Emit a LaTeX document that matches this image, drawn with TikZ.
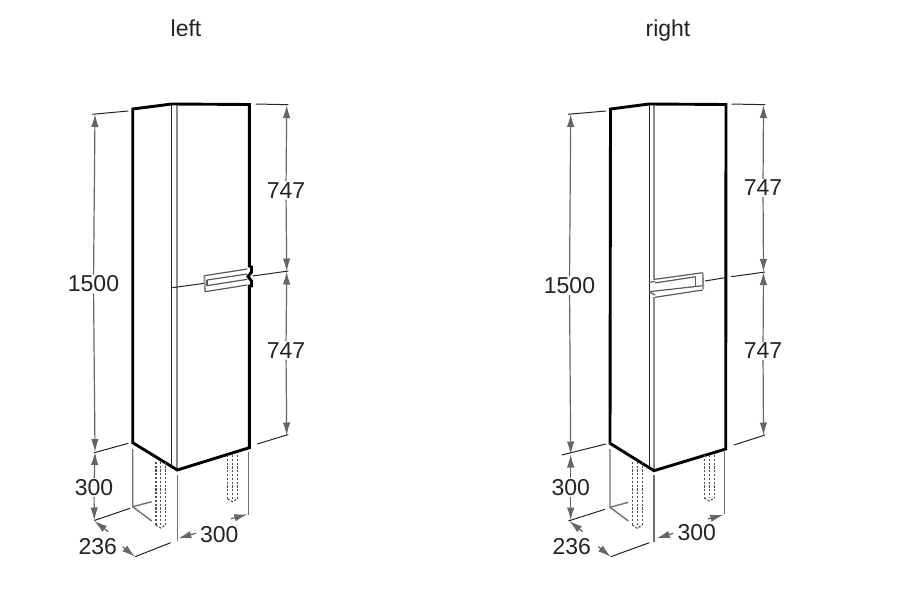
\documentclass[tikz,border=0pt]{standalone}
\usepackage{fontspec}
\setmainfont{Liberation Sans}
\usepackage{xcolor}
\usetikzlibrary{arrows.meta}
\definecolor{inkDark}{RGB}{35, 35, 35}
\definecolor{doorGray}{RGB}{140, 140, 140}

\begin{document}
\begin{tikzpicture}[
    x=1pt, y=-1pt,
    title/.style={font=\fontsize{23}{25}\selectfont, text=inkDark, anchor=base},
    size/.style={font=\fontsize{23}{25}\selectfont, text=inkDark, inner sep=1pt, fill=white},
    body/.style={draw=black, line width=2.9pt, line join=miter},
    edgeline/.style={draw=inkDark, line width=1pt},
    doorline/.style={draw=doorGray, line width=1.8pt},
    extline/.style={draw=inkDark, line width=1pt},
    handleline/.style={draw=inkDark!75, line width=1.2pt},
    legline/.style={draw=doorGray!80!black, line width=1.4pt},
    dimline/.style={draw=inkDark!70, line width=1.2pt, -{Latex[length=13pt,width=7.5pt]}},
    hidden/.style={draw=inkDark!80, line width=1.1pt, dash pattern=on 2.2pt off 1.6pt}
]
    \useasboundingbox (0,0) rectangle (900,606);

    % Titles
    \node[title] (titleL) at (186,36) {left};
    \node[title] (titleR) at (668,36) {right};

    % Left cabinet: corners
    \coordinate (lTL) at (132.7,109);
    \coordinate (lTM) at (171.7,104);
    \coordinate (lTR) at (249.3,104.5);
    \coordinate (lBL) at (132.7,442.7);
    \coordinate (lBM) at (177.3,470);
    \coordinate (lBR) at (249.3,447.7);
    \coordinate (lDT) at (177.3,104);

    % Left cabinet: door edges and handle
    \draw[edgeline] (lTM) -- (171.7,466.5);
    \draw[doorline] (lDT) -- (lBM);
    \draw[extline] (172.3,287.7) -- (204.5,283.3);
    \draw[doorline] (204.3,275.7) -- (205,291.7);
    \draw[handleline] (204.3,275.7) -- (247.3,269);
    \draw[handleline] (207,280) -- (247.3,274);
    \draw[handleline] (207,285.7) -- (247.3,279.3);
    \draw[handleline] (205,291.7) -- (247.3,285);
    \draw[handleline] (207,280) -- (207,285.7);

    % Left cabinet: outline
    \draw[body] (lBM) -- (lBL) -- (lTL) -- (lTM) -- (lTR) -- (249.3,266) -- (251.5,267) -- (251.5,272) -- (248,276.5) -- (251.5,281) -- (251.5,286) -- (249.3,286) -- (lBR) -- cycle;

    % Left cabinet: feet
    \coordinate (lFA) at (132.7,506.7);
    \draw[legline] (132.7,449) -- (lFA) -- (151.7,501.7);
    \draw[legline] (lFA) -- (151.7,521);
    \foreach \dotx in {156, 160.7, 165.7} {
        \draw[hidden] (\dotx,461.7) -- (\dotx,525);
    }
    \draw[hidden] (156,525) -- (160.7,528) -- (165.7,525);
    \foreach \dotx in {227.7, 232.3, 237.3} {
        \draw[hidden] (\dotx,455) -- (\dotx,499);
    }
    \draw[hidden] (227.7,499) -- (232.3,501.7) -- (237.3,499);

    % Left dimensions
    \coordinate (lHa) at (95,114);
    \coordinate (lHb) at (95,452);
    \coordinate (lHc) at (94.3,520.5);
    \coordinate (lUa) at (286.7,105);
    \coordinate (lUb) at (286.7,271.5);
    \coordinate (lUc) at (286.7,435.5);
    \node[size] (lTotal) at (93.5,284) {1500};
    \node[size] (lLeg) at (94,487.5) {300};
    \node[size] (lDeep) at (97.7,546.7) {236};
    \node[size] (lWide) at (219.3,534.5) {300};
    \node[size] (lUpper) at (286,190.5) {747};
    \node[size] (lLower) at (286,350.5) {747};
    \draw[extline] (92.3,114.3) -- (128.3,111);
    \draw[extline] (94.3,452.7) -- (128.3,443.3);
    \draw[extline] (94.3,520.5) -- (130,508.3);
    \draw[extline] (255.7,104) -- (288.3,104.7);
    \draw[extline] (252.7,276) -- (288.3,271);
    \draw[extline] (257.3,444) -- (288.3,434.5);
    \draw[extline] (135,556.7) -- (170.7,542.7);
    \draw[legline] (177.3,475) -- (177.3,540.7);
    \draw[legline] (248.7,451.7) -- (248.7,515);
    \foreach \from/\to in {lTotal/lHa, lTotal/lHb, lLeg/lHb, lLeg/lHc, lUpper/lUa, lUpper/lUb, lLower/lUb, lLower/lUc} {
        \draw[dimline] (\from) -- (\to);
    }
    \coordinate (lDa) at (94.3,521);
    \coordinate (lDb) at (135,556.7);
    \coordinate (lWa) at (178.3,538.3);
    \coordinate (lWb) at (247.3,514.3);
    \draw[dimline] (108.3,531.7) -- (lDa);
    \draw[dimline] (122.7,546.7) -- (lDb);
    \draw[dimline] (195.7,533.3) -- (lWa);
    \draw[dimline] (231,518.7) -- (lWb);

    % Right cabinet: corners
    \coordinate (rTL) at (610.5,109);
    \coordinate (rTM) at (649,104);
    \coordinate (rTR) at (726,104.5);
    \coordinate (rBL) at (610,443.3);
    \coordinate (rBM) at (654,470.7);
    \coordinate (rBR) at (725.7,449);
    \coordinate (rDT) at (654,104);

    % Right cabinet: door edges and handle
    \draw[edgeline] (rTM) -- (649,467.5);
    \draw[doorline] (rDT) -- (654,279.5);
    \draw[doorline] (rBM) -- (654,297);
    \draw[handleline] (655,279.3) -- (702.7,272.7);
    \draw[handleline] (655,283) -- (695.7,276.7);
    \draw[handleline] (649,282.3) -- (655,281.5);
    \draw[handleline] (649,291.7) -- (702.7,285.7);
    \draw[handleline] (655,297.3) -- (702.7,290);
    \draw[doorline] (702.7,272.7) -- (703.3,289.3);
    \draw[handleline] (695.7,276.7) -- (695.7,286.7);
    \draw[handleline] (649,291.7) -- (655,295);

    % Right cabinet: outline
    \draw[body] (rBM) -- (rBL) -- (rTL) -- (rTM) -- (rTR) -- (rBR) -- cycle;

    % Right cabinet: feet
    \coordinate (rFA) at (610,507.3);
    \draw[legline] (610,449) -- (rFA) -- (628.3,502.3);
    \draw[legline] (rFA) -- (628.3,521);
    \foreach \dotx in {632.3, 637.3, 642.3} {
        \draw[hidden] (\dotx,461.7) -- (\dotx,525);
    }
    \draw[hidden] (632.3,525) -- (637.3,528.3) -- (642.3,525);
    \foreach \dotx in {704.3, 709.3, 714.3} {
        \draw[hidden] (\dotx,455) -- (\dotx,498);
    }
    \draw[hidden] (704.3,498) -- (709.3,501) -- (714.3,498);

    % Right dimensions
    \coordinate (rHa) at (570.7,114);
    \coordinate (rHb) at (570.7,454.5);
    \coordinate (rHc) at (570.7,520.5);
    \coordinate (rUa) at (763.5,105);
    \coordinate (rUb) at (763.5,272);
    \coordinate (rUc) at (763.5,435.5);
    \node[size] (rTotal) at (569.5,285.5) {1500};
    \node[size] (rLeg) at (570.7,487.7) {300};
    \node[size] (rDeep) at (571.7,546.7) {236};
    \node[size] (rWide) at (696.7,533) {300};
    \node[size] (rUpper) at (763,188) {747};
    \node[size] (rLower) at (763,351) {747};
    \draw[extline] (568,114.3) -- (606,111);
    \draw[extline] (561.7,455) -- (606,444);
    \draw[extline] (568.3,521) -- (605,509.3);
    \draw[extline] (731.5,104) -- (765,104.7);
    \draw[extline] (705,281) -- (725,277.7);
    \draw[extline] (731,276.7) -- (765,272);
    \draw[extline] (734,445) -- (765,435);
    \draw[extline] (610.7,556.7) -- (649.3,542.7);
    \draw[legline] (654,475) -- (654,541.7);
    \draw[legline] (724.3,450) -- (724.3,514.3);
    \foreach \from/\to in {rTotal/rHa, rTotal/rHb, rLeg/rHb, rLeg/rHc, rUpper/rUa, rUpper/rUb, rLower/rUb, rLower/rUc} {
        \draw[dimline] (\from) -- (\to);
    }
    \coordinate (rDa) at (569.3,521);
    \coordinate (rDb) at (610.7,556.7);
    \coordinate (rWa) at (656.7,538.3);
    \coordinate (rWb) at (723.3,515);
    \draw[dimline] (582.7,531.7) -- (rDa);
    \draw[dimline] (598.3,546.7) -- (rDb);
    \draw[dimline] (673.3,533.3) -- (rWa);
    \draw[dimline] (707.7,519) -- (rWb);

\end{tikzpicture}
\end{document}
